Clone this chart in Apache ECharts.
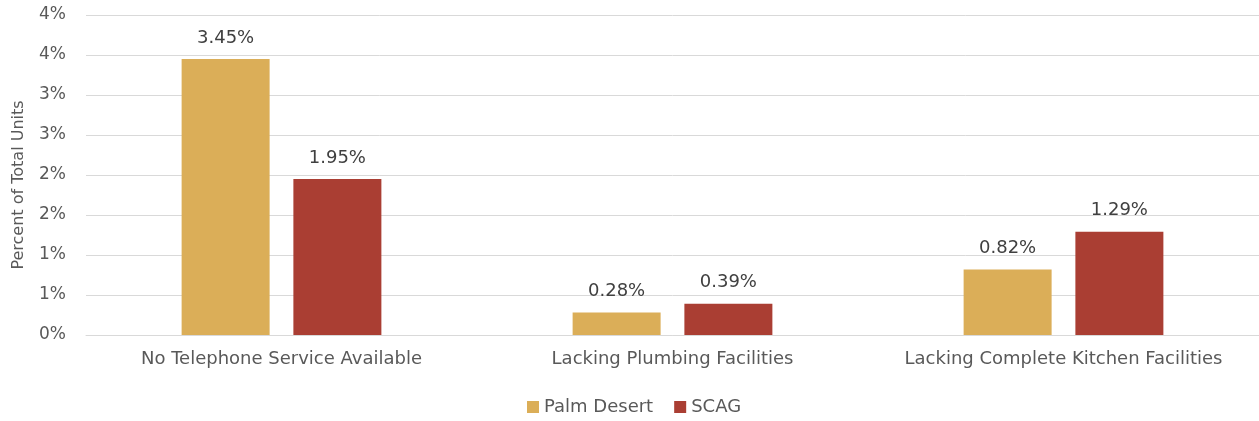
<!DOCTYPE html>
<html>
<head>
<meta charset="utf-8">
<script src="https://cdn.jsdelivr.net/npm/echarts@6/dist/echarts.min.js"></script>
<style>
    html, body { margin: 0; padding: 0; background: #fff; }
    #chart { width: 1259px; height: 421px; }
</style>
</head>
<body>
<div id="chart"></div>
<script>
    // 类目
    let categories = ['No Telephone Service Available', 'Lacking Plumbing Facilities', 'Lacking Complete Kitchen Facilities'];
    // 两组数据（百分比）
    let palmDesert = [3.45, 0.28, 0.82];
    let scag = [1.95, 0.39, 1.29];
    let seriesNames = ['Palm Desert', 'SCAG'];
    let colorList = ['#DBAE58', '#AA3E33'];

    let fontName = 'DejaVu Sans';

    let myChart = echarts.init(document.getElementById('chart'));

    let labelObj = {
        show: true,
        position: 'top',
        distance: 12,
        fontFamily: fontName,
        fontSize: 18,
        color: '#404040',
        formatter: function (p) {
            return p.value.toFixed(2) + '%';
        }
    };

    let option = {
        animation: false,
        textStyle: { fontFamily: fontName },
        grid: {
            top: 15,
            bottom: 86,
            left: 86,
            right: 0
        },
        legend: {
            bottom: 0,
            left: 522,
            icon: 'rect',
            itemWidth: 12,
            itemHeight: 12,
            itemGap: 21,
            textStyle: { fontFamily: fontName, fontSize: 18, color: '#595959' },
            data: seriesNames
        },
        xAxis: {
            type: 'category',
            data: categories,
            axisLine: { lineStyle: { color: '#d9d9d9', width: 1 } },
            axisTick: { show: false },
            axisLabel: {
                interval: 0,
                margin: 15,
                fontFamily: fontName,
                fontSize: 18,
                color: '#595959'
            }
        },
        yAxis: {
            type: 'value',
            min: 0,
            max: 4,
            interval: 0.5,
            name: 'Percent of Total Units',
            nameLocation: 'middle',
            nameGap: 59,
            nameTextStyle: { fontFamily: fontName, fontSize: 16, color: '#595959', padding: [0, 20, 0, 0] },
            axisLine: { show: false },
            axisTick: { show: false },
            axisLabel: {
                margin: 20,
                fontFamily: fontName,
                fontSize: 17,
                color: '#595959',
                formatter: function (v) {
                    return Math.round(v) + '%';
                }
            },
            splitLine: { lineStyle: { color: '#d9d9d9', width: 1 } }
        },
        series: [
            {
                name: seriesNames[0],
                type: 'bar',
                data: palmDesert,
                barWidth: 88,
                barGap: '27%',
                itemStyle: { color: colorList[0] },
                label: labelObj
            },
            {
                name: seriesNames[1],
                type: 'bar',
                data: scag,
                barWidth: 88,
                barGap: '27%',
                itemStyle: { color: colorList[1] },
                label: labelObj
            }
        ]
    };

    myChart.setOption(option);
</script>
</body>
</html>
